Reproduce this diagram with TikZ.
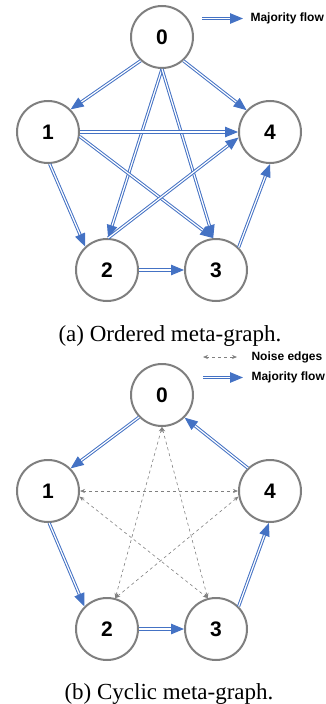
\documentclass[tikz,border=0pt]{standalone}
\usepackage{fontspec}
\setmainfont{Liberation Serif}
\setsansfont{Liberation Sans}
\usetikzlibrary{arrows.meta}

\definecolor{flowblue}{HTML}{4472C4}
\definecolor{ringgray}{HTML}{7F7F7F}

\begin{document}
\begin{tikzpicture}[x=1pt, y=-1pt,
    state/.style={circle, draw=ringgray, line width=2pt, fill=white, minimum size=62pt, inner sep=0pt,
                  font=\sffamily\bfseries\fontsize{21}{24}\selectfont},
    flow/.style={draw=flowblue, double=white, double distance=1.2pt, line width=1pt,
                 -{Triangle[length=13pt, width=10.5pt]}},
    noise/.style={draw=gray, dashed, line width=0.6pt, {Stealth[length=5pt, width=4pt]}-{Stealth[length=5pt, width=4pt]}},
    legend/.style={anchor=west, font=\sffamily\bfseries\fontsize{12}{14}\selectfont},
    caption/.style={anchor=base, font=\fontsize{23}{26}\selectfont}]
    \useasboundingbox (0,0) rectangle (326,704);

    % (a) ordered meta-graph
    \node[state] (n0) at (162,37) {0};
    \node[state] (n1) at (48,132) {1};
    \node[state] (n4) at (270,132) {4};
    \node[state] (n2) at (107,270) {2};
    \node[state] (n3) at (216,270) {3};

    \draw[flow] (n0.-132) -- (n1.45);
    \draw[flow] (n0.-48) -- (n4.137);
    \draw[flow] (n0.south) -- (n2.88);
    \draw[flow] (n0.south) -- (n3.95);
    \draw[flow] (n1.east) -- (n4.west);
    \draw[flow] (n1.-8) -- (n3.95);
    \draw[flow] (n1.-87) -- (n2.133);
    \draw[flow] (n2.88) -- (n4.190);
    \draw[flow] (n2.east) -- (n3.west);
    \draw[flow] (n3.45) -- (n4.-90);

    \coordinate (la1) at (202,18.5);
    \coordinate (la2) at (243,18.5);
    \draw[flow] (la1) -- (la2);
    \node[legend] (lta) at (247,18) {Majority flow};

    \node[caption] (capa) at (170,341) {(a) Ordered meta-graph.};

    % (b) cyclic meta-graph
    \node[state] (b0) at (162,395) {0};
    \node[state] (b1) at (48,491) {1};
    \node[state] (b4) at (270,491) {4};
    \node[state] (b2) at (107,629) {2};
    \node[state] (b3) at (216,629) {3};

    \draw[noise] (b1.east) -- (b4.west);
    \draw[noise] (b0.south) -- (b2.75);
    \draw[noise] (b0.south) -- (b3.105);
    \draw[noise] (b1.-10) -- (b3.105);
    \draw[noise] (b2.75) -- (b4.190);

    \draw[flow] (b0.-136) -- (b1.45);
    \draw[flow] (b1.-88) -- (b2.135);
    \draw[flow] (b2.east) -- (b3.west);
    \draw[flow] (b3.45) -- (b4.-92);
    \draw[flow] (b4.134) -- (b0.-45);

    \coordinate (lb1) at (203,357);
    \coordinate (lb2) at (237,357);
    \draw[noise] (lb1) -- (lb2);
    \node[legend] (ltb) at (248,357) {Noise edges};
    \coordinate (lb3) at (203,377.5);
    \coordinate (lb4) at (243,377.5);
    \draw[flow] (lb3) -- (lb4);
    \node[legend] (ltc) at (248,377) {Majority flow};

    \node[caption] (capb) at (169,699) {(b) Cyclic meta-graph.};
\end{tikzpicture}
\end{document}
